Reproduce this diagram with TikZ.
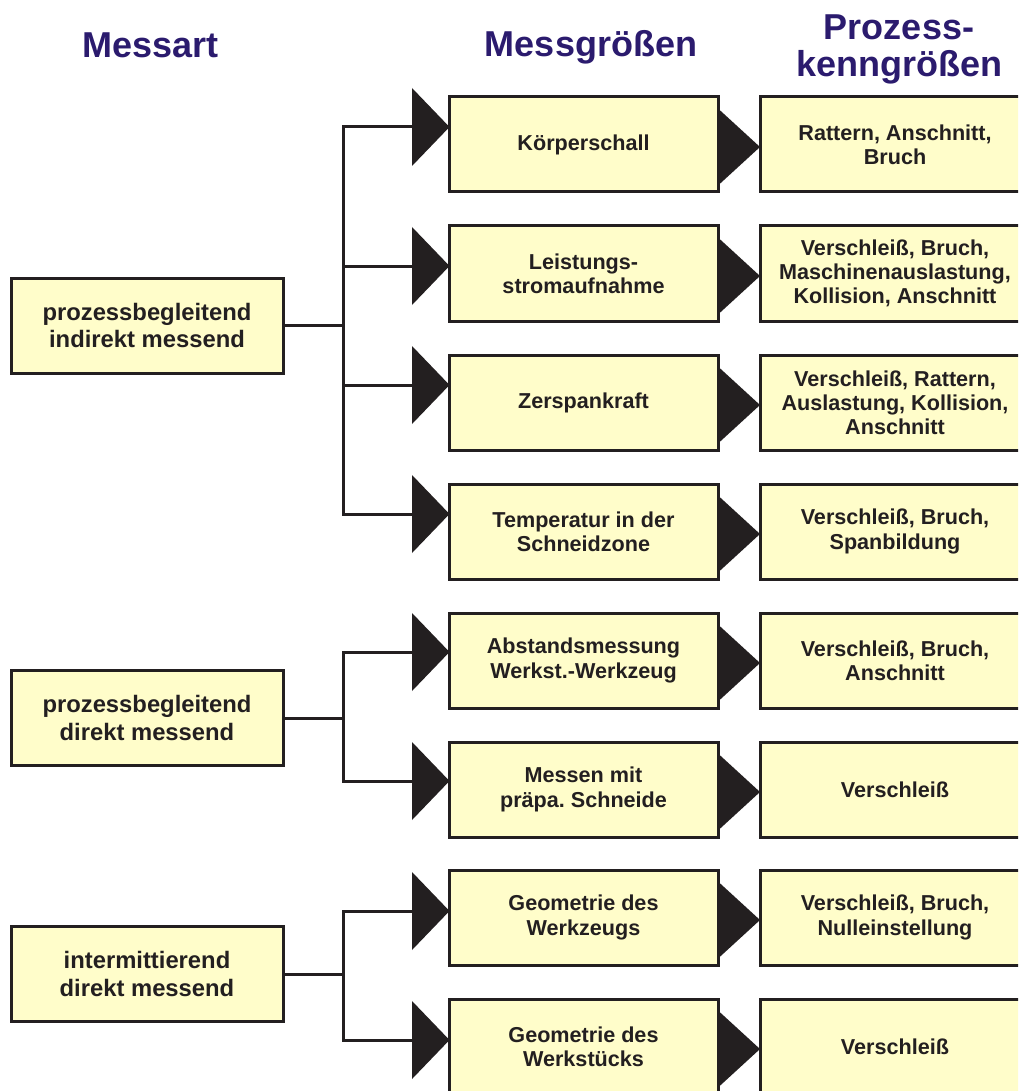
\documentclass[tikz,border=0pt]{standalone}
\usepackage{fontspec}
\setmainfont{Liberation Sans}
\definecolor{boxfill}{RGB}{255,253,202}
\definecolor{ink}{RGB}{35,31,32}
\definecolor{headblue}{RGB}{43,27,110}

\begin{document}
\begin{tikzpicture}[x=1pt,y=-1pt,
  box/.style={draw=ink, fill=boxfill, line width=3pt, inner sep=0pt, align=center,
    text=ink, font=\bfseries\fontsize{21.6}{24.2}\selectfont, minimum height=95pt},
  midbox/.style={box, minimum width=269pt},
  resbox/.style={box, minimum width=270pt},
  srcbox/.style={box, minimum width=272pt, font=\bfseries\fontsize{23.8}{27.5}\selectfont},
  head/.style={text=headblue, font=\bfseries\fontsize{36}{36}\selectfont, anchor=base, inner sep=0pt},
  link/.style={draw=ink, line width=3pt},
  pointer/.style={fill=ink},
]
\clip (0,0) rectangle (1018,1091);

% column headings
\node[head] (hA) at (150.5,58) {Messart};
\node[head] (hB) at (591,57) {Messgrößen};
\node[head] (hC) at (899,40) {Prozess-};
\node[head] (hD) at (899,77) {kenngrößen};

% bus junctions and pointer entry points
\coordinate (j1) at (343,127);  \coordinate (p1) at (412,127);
\coordinate (j2) at (343,266);  \coordinate (p2) at (412,266);
\coordinate (j3) at (343,385);  \coordinate (p3) at (412,385);
\coordinate (j4) at (343,514);  \coordinate (p4) at (412,514);
\coordinate (j5) at (343,652);  \coordinate (p5) at (412,652);
\coordinate (j6) at (343,781);  \coordinate (p6) at (412,781);
\coordinate (j7) at (343,911);  \coordinate (p7) at (412,911);
\coordinate (j8) at (343,1040); \coordinate (p8) at (412,1040);

% large pointers in front of the measured quantities
\foreach \p in {p1,p2,p3,p4,p5,p6,p7,p8}
  \fill[pointer] (\p) ++(0,-39) -- ++(37.5,39) -- ++(-37.5,39) -- cycle;

% small pointers towards the process parameters
\foreach \m in {147,276,405,534,663,792,920,1049}
  \fill[pointer] (712,\m-44) -- (760,\m) -- (712,\m+44) -- cycle;

% measurement types
\node[srcbox] (L1) at (147,325.5) {prozessbegleitend\\indirekt messend};
\node[srcbox] (L2) at (147,718) {prozessbegleitend\\direkt messend};
\node[srcbox] (L3) at (147,974) {intermittierend\\direkt messend};

% branching connectors
\draw[link] (p1) -- (j1) -- (j4) -- (p4);
\draw[link] (j2) -- (p2);
\draw[link] (j3) -- (p3);
\draw[link] (L1.east) -- (L1.east -| j1);
\draw[link] (p5) -- (j5) -- (j6) -- (p6);
\draw[link] (L2.east) -- (L2.east -| j5);
\draw[link] (p7) -- (j7) -- (j8) -- (p8);
\draw[link] (L3.east) -- (L3.east -| j7);

% measured quantities
\node[midbox] (M1) at (583.5,144.5) {Körperschall};
\node[midbox] (M2) at (583.5,273.5) {Leistungs-\\stromaufnahme};
\node[midbox] (M3) at (583.5,402.5) {Zerspankraft};
\node[midbox] (M4) at (583.5,531.5) {Temperatur in der\\Schneidzone};
\node[midbox] (M5) at (583.5,660.5) {Abstandsmessung\\Werkst.-Werkzeug};
\node[midbox] (M6) at (583.5,789.5) {Messen mit\\präpa.\ Schneide};
\node[midbox] (M7) at (583.5,917.5) {Geometrie des\\Werkzeugs};
\node[midbox] (M8) at (583.5,1046.5) {Geometrie des\\Werkstücks};

% process parameters
\node[resbox] (R1) at (895,144.5) {Rattern, Anschnitt,\\Bruch};
\node[resbox] (R2) at (895,273.5) {Verschleiß, Bruch,\\Maschinenauslastung,\\Kollision, Anschnitt};
\node[resbox] (R3) at (895,402.5) {Verschleiß, Rattern,\\Auslastung, Kollision,\\Anschnitt};
\node[resbox] (R4) at (895,531.5) {Verschleiß, Bruch,\\Spanbildung};
\node[resbox] (R5) at (895,660.5) {Verschleiß, Bruch,\\Anschnitt};
\node[resbox] (R6) at (895,789.5) {Verschleiß};
\node[resbox] (R7) at (895,917.5) {Verschleiß, Bruch,\\Nulleinstellung};
\node[resbox] (R8) at (895,1046.5) {Verschleiß};
\end{tikzpicture}
\end{document}
